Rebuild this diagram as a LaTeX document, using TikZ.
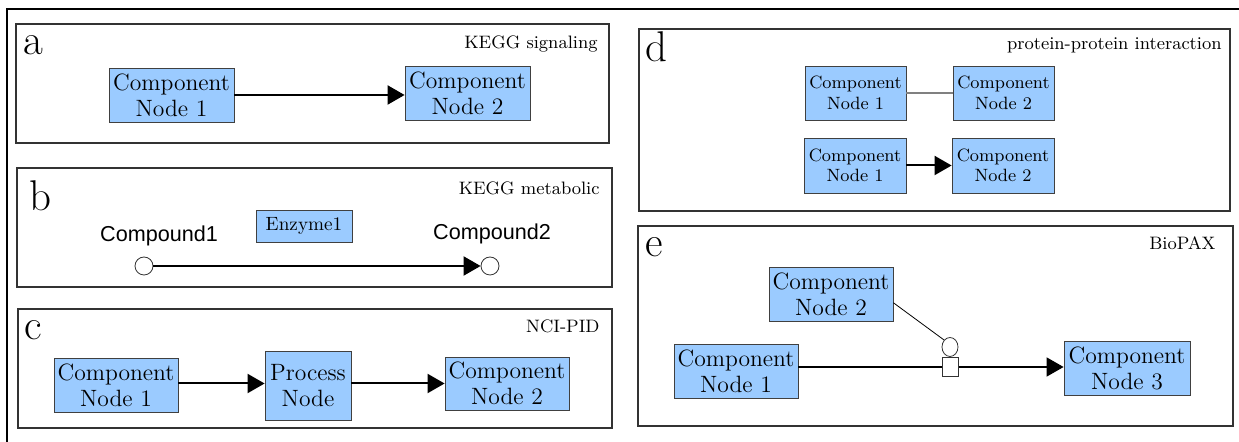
\documentclass[tikz,border=0pt]{standalone}
\usepackage{fontspec}
\newfontfamily\cpdfont{Liberation Sans}
\usetikzlibrary{arrows.meta,shapes.geometric}
\definecolor{nodeblue}{RGB}{155,203,255}
\tikzset{
  panel/.style={draw=black!80, line width=0.6pt},
  comp/.style={draw=black!75, fill=nodeblue, align=center, inner sep=0pt,
    font=\fontsize{11.8}{13}\selectfont},
  smallcomp/.style={comp, font=\fontsize{8.9}{10.2}\selectfont},
  tag/.style={anchor=base west, inner sep=0pt, font=\fontsize{21.5}{21.5}\selectfont},
  caption/.style={anchor=base east, inner sep=0pt, font=\fontsize{9}{9}\selectfont},
  link/.style={line width=1pt, -{Triangle[length=8.5pt,width=9.5pt]}},
  plain/.style={line width=0.6pt}
}
\begin{document}
\begin{tikzpicture}[x=0.5pt,y=-0.5pt]
  \useasboundingbox (0,0) rectangle (1239,442);
  \draw[line width=0.7pt] (1239,9) -- (7,9) -- (7,442);

  % a
  \draw[panel] (16,24) rectangle (609,143);
  \node[tag] at (23,55) {a};
  \node[caption] at (598,49) {KEGG signaling};
  \node[comp, minimum width=62.5pt, minimum height=27pt] (a1) at (171.5,95) {Component\\Node 1};
  \node[comp, minimum width=62.5pt, minimum height=27pt] (a2) at (467.5,93) {Component\\Node 2};
  \draw[link] (a1.east) -- (a1.east -| a2.west);

  % b
  \draw[panel] (17,168) rectangle (612,287);
  \node[tag] at (29,211) {b};
  \node[caption] at (600,195) {KEGG metabolic};
  \node[comp, font=\fontsize{9.6}{10}\selectfont, minimum width=48pt, minimum height=16pt] (enz) at (304,226) {Enzyme1};
  \node[font=\cpdfont\fontsize{10.8}{11}\selectfont] (cp1) at (159,236) {Compound1};
  \node[font=\cpdfont\fontsize{10.8}{11}\selectfont] (cp2) at (492,234) {Compound2};
  \node[draw=black!80, fill=white, circle, minimum size=9pt, inner sep=0pt] (s1) at (144,266) {};
  \node[draw=black!80, fill=white, circle, minimum size=9pt, inner sep=0pt] (s2) at (490,266) {};
  \draw[link] (s1) -- (s2);

  % c
  \draw[panel] (18,309) rectangle (612,428);
  \node[tag] at (24,340) {c};
  \node[caption] at (600,333) {NCI-PID};
  \node[comp, minimum width=62pt, minimum height=27pt] (c1) at (116,385) {Component\\Node 1};
  \node[comp, minimum width=43pt, minimum height=34.5pt] (cp) at (308,385.5) {Process\\Node};
  \node[comp, minimum width=62pt, minimum height=26.5pt] (c2) at (507,383.5) {Component\\Node 2};
  \draw[link] (c1.east |- c2.west) -- (cp.west |- c2.west);
  \draw[link] (cp.east |- c2.west) -- (c2.west);

  % d
  \draw[panel] (639,29) rectangle (1230,211);
  \node[tag] at (645,62) {d};
  \node[caption] at (1222,50) {protein-protein interaction};
  \node[smallcomp, minimum width=50.5pt, minimum height=27pt] (d1) at (855.5,93) {Component\\Node 1};
  \node[smallcomp, minimum width=50.5pt, minimum height=27pt] (d2) at (1003.5,93) {Component\\Node 2};
  \node[smallcomp, minimum width=51pt, minimum height=27.5pt] (d3) at (855,165.5) {Component\\Node 1};
  \node[smallcomp, minimum width=51pt, minimum height=27.5pt] (d4) at (1003,165.5) {Component\\Node 2};
  \draw[black!50, line width=0.6pt] (d1) -- (d2);
  \draw[link] (d3) -- (d4);

  % e
  \draw[panel] (638,226) rectangle (1233,426);
  \node[tag] at (645,257) {e};
  \node[caption] at (1216,250) {BioPAX};
  \node[comp, minimum width=62pt, minimum height=27pt] (e2) at (831,294) {Component\\Node 2};
  \node[comp, minimum width=62pt, minimum height=27pt] (e1) at (736,371) {Component\\Node 1};
  \node[comp, minimum width=63pt, minimum height=27pt] (e3) at (1127,368) {Component\\Node 3};
  \node[draw=black!80, fill=white, minimum width=8pt, minimum height=9.5pt, inner sep=0pt] (sq) at (950.5,367) {};
  \node[draw=black!80, fill=white, ellipse, minimum width=8pt, minimum height=9.5pt, inner sep=0pt] (mod) at (950,347) {};
  \draw[plain, line width=0.8pt] (e1.east |- sq.west) -- (sq.west);
  \draw[link, line width=0.8pt] (sq.east) -- (sq.east -| e3.west);
  \draw[plain, line width=0.4pt] (e2.352) -- (mod.north west);
\end{tikzpicture}
\end{document}
